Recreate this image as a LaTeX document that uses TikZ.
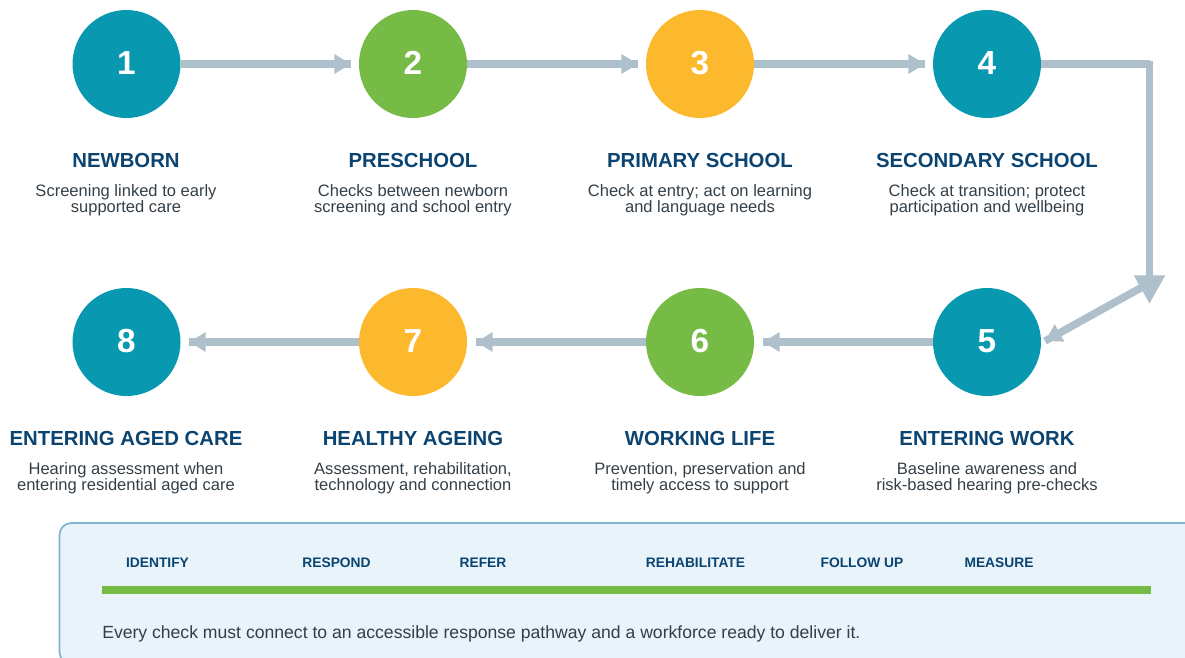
\documentclass[tikz,border=0pt]{standalone}
\usepackage{fontspec}
\setmainfont{Liberation Sans}
\usetikzlibrary{arrows.meta}
\definecolor{teal}{HTML}{0899B0}
\definecolor{leaf}{HTML}{76BB45}
\definecolor{amber}{HTML}{FDB92D}
\definecolor{steel}{HTML}{AEC0CB}
\definecolor{navy}{HTML}{0B4470}
\definecolor{body}{HTML}{333F48}
\definecolor{panelfill}{HTML}{E8F3FA}
\definecolor{panelline}{HTML}{7FB5D0}
\newcommand{\digit}[1]{\raisebox{2.2pt}{#1}}
\tikzset{
  x=0.75pt,y=-0.75pt,
  disc/.style={circle,inner sep=0pt,minimum size=81pt,text=white,font=\fontsize{25}{25}\selectfont\bfseries},
  head/.style={inner sep=0pt,text=navy,font=\fontsize{15.25}{15.25}\selectfont\bfseries,anchor=center},
  desc/.style={inner sep=0pt,text=body,align=center,font=\fontsize{12.4}{12}\selectfont,anchor=north},
  tag/.style={inner sep=0pt,text=navy,font=\fontsize{10.35}{10.35}\selectfont\bfseries,anchor=center},
  plain/.style={draw=steel,line width=5.5pt},
  flow/.style={plain,postaction={draw=steel,line width=5.5pt,-{Triangle[length=12.5pt,width=14pt]}}},
}
\begin{document}
\begin{tikzpicture}
\useasboundingbox (0,0) rectangle (1185,657);
\clip (0,0) rectangle (1185,657);
\node[disc,fill=teal]  (c1) at (126.5,64) {\digit{1}};
\node[disc,fill=leaf]  (c2) at (413,64) {\digit{2}};
\node[disc,fill=amber] (c3) at (700,64) {\digit{3}};
\node[disc,fill=teal]  (c4) at (987,64) {\digit{4}};
\node[disc,fill=teal]  (c5) at (987,342) {\digit{5}};
\node[disc,fill=leaf]  (c6) at (700,342) {\digit{6}};
\node[disc,fill=amber] (c7) at (413,342) {\digit{7}};
\node[disc,fill=teal]  (c8) at (126.5,342) {\digit{8}};
\coordinate (a1) at (351,64);
\coordinate (a2) at (638,64);
\coordinate (a3) at (925,64);
\coordinate (a6) at (763,342);
\coordinate (a7) at (476,342);
\coordinate (a8) at (189,342);
\coordinate (e1) at (1150,64);
\coordinate (e2) at (1149.5,60.5);
\coordinate (e3) at (1149.5,304);
\coordinate (e4) at (1146,285);
\coordinate (e5) at (1045,341);
\draw[flow] (c1.east) -- (a1);
\draw[flow] (c2.east) -- (a2);
\draw[flow] (c3.east) -- (a3);
\draw[plain] (c4.east) -- (e1);
\draw[draw=steel,line width=5.5pt,-{Triangle[length=21.5pt,width=22pt]}] (e2) -- (e3);
\draw[flow] (e4) -- (e5);
\draw[flow] (c5.west) -- (a6);
\draw[flow] (c6.west) -- (a7);
\draw[flow] (c7.west) -- (a8);
\node[head] (h1) at (126,160.3) {NEWBORN};
\node[head] (h2) at (413,160.3) {PRESCHOOL};
\node[head] (h3) at (700,160.3) {PRIMARY SCHOOL};
\node[head] (h4) at (987,160.3) {SECONDARY SCHOOL};
\node[head] (h5) at (987,438.3) {ENTERING WORK};
\node[head] (h6) at (700,438.3) {WORKING LIFE};
\node[head] (h7) at (413,438.3) {HEALTHY AGEING};
\node[head] (h8) at (126,438.3) {ENTERING AGED CARE};
\node[desc] (d1) at (126,184) {Screening linked to early\\supported care};
\node[desc] (d2) at (413,184) {Checks between newborn\\screening and school entry};
\node[desc] (d3) at (700,184) {Check at entry; act on learning\\and language needs};
\node[desc] (d4) at (987,184) {Check at transition; protect\\participation and wellbeing};
\node[desc] (d5) at (987,462) {Baseline awareness and\\risk-based hearing pre-checks};
\node[desc] (d6) at (700,462) {Prevention, preservation and\\timely access to support};
\node[desc] (d7) at (413,462) {Assessment, rehabilitation,\\technology and connection};
\node[desc] (d8) at (126,462) {Hearing assessment when\\entering residential aged care};
\draw[fill=panelfill,draw=panelline,line width=1.3pt,rounded corners=9pt] (59.5,523) rectangle (1230,664);
\node[tag] (t1) at (157.5,563) {IDENTIFY};
\node[tag] (t2) at (336.5,563) {RESPOND};
\node[tag] (t3) at (483,563) {REFER};
\node[tag] (t4) at (695.5,563) {REHABILITATE};
\node[tag] (t5) at (862,563) {FOLLOW UP};
\node[tag] (t6) at (999,563) {MEASURE};
\fill[leaf] (102,586) rectangle (1151,594);
\node[inner sep=0pt,anchor=west,text=body,font=\fontsize{13.2}{13.2}\selectfont] (n) at (102,633.5) {Every check must connect to an accessible response pathway and a workforce ready to deliver it.};
\end{tikzpicture}
\end{document}
